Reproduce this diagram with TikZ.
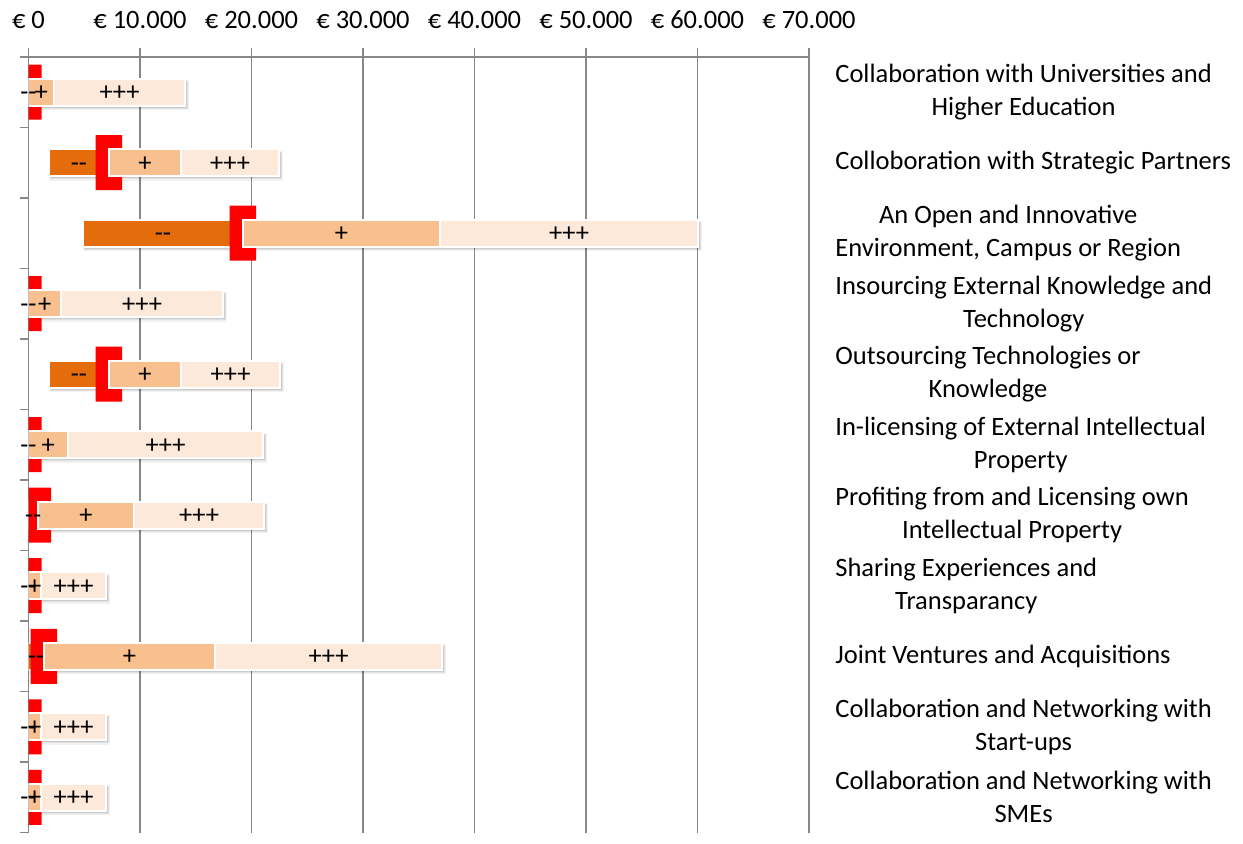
\documentclass[tikz,border=0pt]{standalone}
\usepackage{fontspec}
\setmainfont{Carlito}
\definecolor{gridgray}{HTML}{878787}
\definecolor{negorange}{HTML}{E46C0A}
\definecolor{posorange}{HTML}{F9C08F}
\definecolor{strongpos}{HTML}{FDE9D9}
\definecolor{markred}{HTML}{FF0000}
\tikzset{
  grid line/.style={draw=gridgray, line width=0.9pt},
  seg/.style={draw=white, line width=0.8pt},
  bartext/.style={font=\fontsize{13.25}{16}\selectfont, inner sep=0pt, text=black,
    text height=8.6pt, text depth=0pt},
  axislabel/.style={font=\fontsize{13.25}{16}\selectfont, inner sep=0pt},
  catlabel/.style={font=\fontsize{13.25}{16.5}\selectfont, inner sep=0pt, anchor=west, align=center},
}
% #1 row centre, #2 start of "--", #3 boundary "--"/"+", #4 end of "+", #5 end of "+++", #6 row name
\newcommand\costrow[6]{%
  \begin{scope}
    \clip (28.5,#1-40) rectangle (820,#1+40);
    % soft shadow under the bar
    \fill[black,opacity=.05] (#2,#1-12) rectangle (#5+4,#1+18);
    \fill[black,opacity=.07] (#2+1,#1-11) rectangle (#5+3,#1+16.5);
    \fill[black,opacity=.09] (#2+2,#1-10) rectangle (#5+2,#1+15.5);
    % "--" segment
    \path[seg, fill=negorange] (#2,#1-13.5) rectangle (#3,#1+13.5);
    % bracket marker
    \fill[markred] (#3-13.5,#1-27.5) -- (#3+13,#1-27.5) -- (#3+13,#1-13.5)
      -- (#3,#1-13.5) -- (#3,#1+13.5) -- (#3+13,#1+13.5) -- (#3+13,#1+27.5)
      -- (#3-13.5,#1+27.5) -- cycle;
    % "+" and "+++" segments
    \path[seg, fill=posorange] (#3,#1-13.5) rectangle (#4,#1+13.5);
    \path[seg, fill=strongpos] (#4,#1-13.5) rectangle (#5,#1+13.5);
  \end{scope}
  \node[bartext] (#6n) at ({(#2+#3)/2},#1) {-\kern0pt-};
  \node[bartext] (#6p) at ({(#3+#4)/2},#1) {+};
  \node[bartext] (#6t) at ({(#4+#5)/2},#1) {+++};
}
\begin{document}
\begin{tikzpicture}[x=0.5pt,y=-0.5pt]
  \useasboundingbox[fill=white] (0,0) rectangle (1243,844);
  % value grid and axis labels
  \foreach \gx/\lab [count=\k] in {28.5/0,140/10.000,251.5/20.000,363/30.000,474.5/40.000,586/50.000,697.5/60.000,809/70.000}{
    \draw[grid line] (\gx,48) -- (\gx,833);
    \node[axislabel] (ax\k) at (\gx,20) {€ \lab};
  }
  \draw[grid line] (20,57) -- (809,57);
  \foreach \i in {1,...,11}
    \draw[grid line] (20,{57+70.5*\i}) -- (28.5,{57+70.5*\i});

  % rows
  \costrow{92.25}{28.5}{28.5}{54}{185}{ra}
  \costrow{162.75}{49}{109}{181}{279}{rb}
  \costrow{233.25}{83}{243}{440}{698}{rc}
  \costrow{303.75}{28.5}{28.5}{61}{223}{rd}
  \costrow{374.25}{49}{109}{181}{280}{re}
  \costrow{444.75}{28.5}{28.5}{68}{263}{rf}
  \costrow{515.25}{28.5}{38}{134}{264}{rg}
  \costrow{585.75}{28.5}{28.5}{41}{106}{rh}
  \costrow{656.25}{28.5}{44}{215}{442}{ri}
  \costrow{726.75}{28.5}{28.5}{41}{106}{rj}
  \costrow{797.25}{28.5}{28.5}{41}{106}{rk}

  % category labels
  \node[catlabel] (la) at (835,92.25) {Collaboration with Universities and\\Higher Education};
  \node[catlabel] (lb) at (835,162.75) {Colloboration with Strategic Partners};
  \node[catlabel] (lc) at (835,233.25) {An Open and Innovative\\Environment, Campus or Region};
  \node[catlabel] (ld) at (835,303.75) {Insourcing External Knowledge and\\Technology};
  \node[catlabel] (le) at (835,374.25) {Outsourcing Technologies or\\Knowledge};
  \node[catlabel] (lf) at (835,444.75) {In-licensing of External Intellectual\\Property};
  \node[catlabel] (lg) at (835,515.25) {Profiting from and Licensing own\\Intellectual Property};
  \node[catlabel] (lh) at (835,585.75) {Sharing Experiences and\\Transparancy};
  \node[catlabel] (li) at (835,656.25) {Joint Ventures and Acquisitions};
  \node[catlabel] (lj) at (835,726.75) {Collaboration and Networking with\\Start-ups};
  \node[catlabel] (lk) at (835,797.25) {Collaboration and Networking with\\SMEs};
\end{tikzpicture}
\end{document}
